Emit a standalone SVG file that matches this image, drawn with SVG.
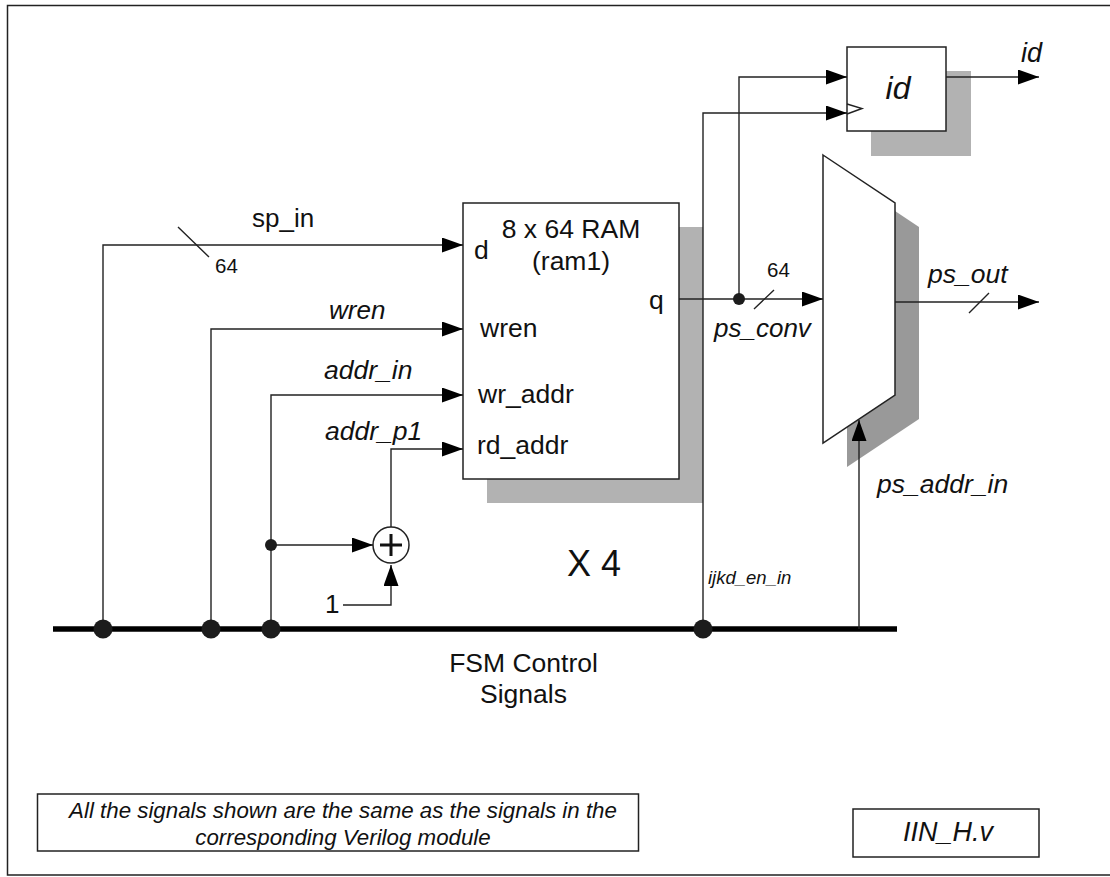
<svg xmlns="http://www.w3.org/2000/svg" width="1110" height="877" viewBox="0 0 1110 877">
<style>
text{font-family:"Liberation Sans",Arial,sans-serif;fill:#111}
.i{font-style:italic}
.m{text-anchor:middle}
.w{stroke:#222;stroke-width:1.4;fill:none}
.b{fill:#fff;stroke:#222;stroke-width:1.5}
.d{fill:#1c1c1c}
.s{fill:#b2b2b2}
</style>
<defs>
<marker id="a" markerUnits="userSpaceOnUse" markerWidth="22" markerHeight="16" refX="21" refY="7.5" orient="auto"><path d="M0 0L21 7.5L0 15Z" fill="#000"/></marker>
</defs>
<rect width="1110" height="877" fill="#fff"/>
<path id="frame" d="M1110 5.5H7.5V875H1110" fill="none" stroke="#222" stroke-width="1.5"/>
<g id="shadows">
<rect class="s" x="487" y="227" width="216" height="276"/>
<rect class="s" x="871" y="71" width="100" height="85"/>
<path d="M847 179L919 227V419L847 467Z" fill="#999"/>
</g>
<g id="ram">
<rect class="b" x="463" y="203" width="216" height="276"/>
<text class="m" x="571" y="238" font-size="26.500">8 x 64 RAM</text>
<text class="m" x="571" y="270" font-size="26.500">(ram1)</text>
<text x="474" y="259" font-size="26.500">d</text>
<text x="649" y="309" font-size="26.500">q</text>
<text x="480" y="337" font-size="26.500">wren</text>
<text x="478" y="403" font-size="26.500">wr_addr</text>
<text x="477" y="454" font-size="26.500">rd_addr</text>
</g>
<g id="id-reg">
<rect class="b" x="847" y="47" width="99" height="84"/>
<path class="w" d="M847 104L862 108.500L847 114"/>
<text class="i m" x="898" y="99" font-size="32">id</text>
</g>
<g id="mux">
<path class="b" d="M823 155L895 203V395L823 443Z"/>
</g>
<g id="adder">
<circle class="b" cx="391" cy="545" r="18"/>
<path d="M380 545H402M391 534V556" stroke="#111" stroke-width="3" fill="none"/>
</g>
<g id="connectors">
<path d="M53 629H897" stroke="#000" stroke-width="5.500" fill="none"/>
<path class="w" d="M103 629V245H463" marker-end="url(#a)"/>
<path class="w" d="M211 629V329H463" marker-end="url(#a)"/>
<path class="w" d="M271 629V395H463" marker-end="url(#a)"/>
<path class="w" d="M391 527V449H463" marker-end="url(#a)"/>
<path class="w" d="M271 545H373" marker-end="url(#a)"/>
<path class="w" d="M343 605H391V565" marker-end="url(#a)"/>
<path class="w" d="M703 629V113H847" marker-end="url(#a)"/>
<path class="w" d="M739 299V77H847" marker-end="url(#a)"/>
<path class="w" d="M679 299H823" marker-end="url(#a)"/>
<path class="w" d="M895 302H1039" marker-end="url(#a)"/>
<path class="w" d="M946 77H1039" marker-end="url(#a)"/>
<path class="w" d="M859 629V420" marker-end="url(#a)"/>
<path class="w" d="M178 227L209 257M754 309L774 290M969 313L989 293"/>
<circle class="d" cx="103" cy="629" r="9.500"/>
<circle class="d" cx="211" cy="629" r="9.500"/>
<circle class="d" cx="271" cy="629" r="9.500"/>
<circle class="d" cx="703" cy="629" r="9.500"/>
<circle class="d" cx="271" cy="545" r="6"/>
<circle class="d" cx="739" cy="299" r="6"/>
</g>
<g id="labels">
<text x="252" y="227" font-size="26">sp_in</text>
<text x="215" y="273" font-size="20.500">64</text>
<text class="i" x="329" y="319" font-size="26">wren</text>
<text class="i" x="324" y="379" font-size="26.500">addr_in</text>
<text class="i" x="325" y="440" font-size="26.500">addr_p1</text>
<text x="325" y="613" font-size="26">1</text>
<text x="567" y="576" font-size="36">X 4</text>
<text class="i" x="708" y="584" font-size="18.500">ijkd_en_in</text>
<text x="767" y="277" font-size="20.500">64</text>
<text class="i" x="714" y="337" font-size="26">ps_conv</text>
<text class="i" x="928" y="283" font-size="26.500">ps_out</text>
<text class="i" x="877" y="493" font-size="26.500">ps_addr_in</text>
<text class="i" x="1021" y="62" font-size="27">id</text>
<text class="m" x="523.500" y="672" font-size="26.500">FSM Control</text>
<text class="m" x="523.500" y="703" font-size="26.500">Signals</text>
</g>
<g id="note">
<rect class="b" x="37.500" y="794" width="601" height="57"/>
<text class="i m" x="343" y="818" font-size="22.300">All the signals shown are the same as the signals in the</text>
<text class="i m" x="343" y="845" font-size="22.300">corresponding Verilog module</text>
</g>
<g id="file">
<rect class="b" x="853" y="809" width="186" height="48"/>
<text class="i m" x="948" y="841" font-size="27">IIN_H.v</text>
</g>
</svg>
